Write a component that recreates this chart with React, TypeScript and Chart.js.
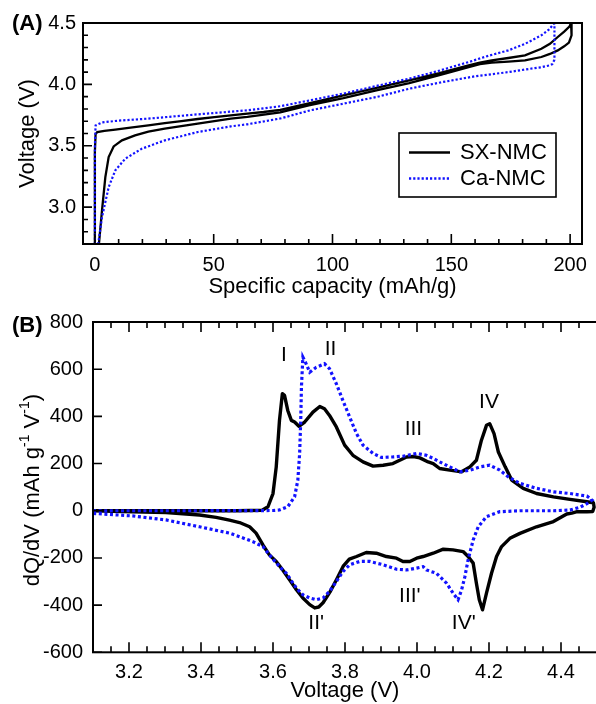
import React, { useEffect, useRef } from "react";
import { Chart, registerables } from "chart.js";
Chart.register(...registerables);

const FONT = '"Liberation Sans", Arial, Helvetica, sans-serif';
const BLACK = "#000000";
const BLUE = "rgb(18,18,255)";

// ---------- Panel A: voltage vs specific capacity ----------
const A_X_TICKS = [0, 50, 100, 150, 200];
const A_Y_TICKS = [3.0, 3.5, 4.0, 4.5];

// SX-NMC: charge (upper) followed by discharge (lower, plotted back to 0)
const A_SX_CAP = [
  0, 0, 0.3, 1, 4, 8.6, 15, 22.5, 29.4, 36.4, 43.3, 50.3, 57.2, 64.2, 71, 78, 90, 104.6, 118, 132.3, 145, 157.3, 162,
  167, 174, 181, 187.9, 191.5, 194.8, 197.5, 199.7, 200.4,
  200.6, 200.6, 199.5, 197.5, 194.8, 191.5, 187.9, 181, 174, 167, 162, 157.3, 145, 132.3, 118, 104.6, 90, 78, 64.2,
  57.2, 43.3, 29.4, 22.5, 16.9, 11.4, 7.9, 5.8, 4.4, 3.0, 1.7,
];
const A_SX_V = [
  2.7, 3.45, 3.595, 3.612, 3.622, 3.632, 3.648, 3.666, 3.684, 3.701, 3.718, 3.734, 3.748, 3.762, 3.775, 3.793, 3.845,
  3.911, 3.97, 4.033, 4.092, 4.155, 4.177, 4.196, 4.215, 4.237, 4.29, 4.33, 4.386, 4.43, 4.47, 4.5,
  4.5, 4.4, 4.34, 4.31, 4.277, 4.248, 4.223, 4.196, 4.186, 4.177, 4.165, 4.14, 4.075, 4.011, 3.95, 3.889, 3.83, 3.772,
  3.735, 3.721, 3.68, 3.639, 3.615, 3.585, 3.544, 3.495, 3.408, 3.245, 2.973, 2.7,
];

// Ca-NMC
const A_CA_CAP = [
  0, 0, 0.3, 3, 10, 22.5, 43.3, 64.2, 78, 90, 104.6, 118, 132.3, 145, 157.3, 166, 174, 181, 187.9, 191, 193.2,
  193.4, 193.4, 192.5, 191.4, 188, 185.1, 174, 160, 146.3, 132.3, 118.5, 104.6, 90.7, 78, 64.2, 57.2, 43.3, 29.4,
  19.7, 12.8, 8.6, 5.8, 3.0, 1.4,
];
const A_CA_V = [
  2.7, 3.5, 3.666, 3.69, 3.705, 3.721, 3.756, 3.789, 3.822, 3.868, 3.925, 3.985, 4.047, 4.112, 4.182, 4.235, 4.277,
  4.33, 4.4, 4.445, 4.495,
  4.495, 4.2, 4.165, 4.155, 4.14, 4.133, 4.1, 4.066, 4.019, 3.965, 3.897, 3.843, 3.789, 3.722, 3.675, 3.658, 3.612,
  3.544, 3.476, 3.395, 3.3, 3.163, 2.919, 2.7,
];

// ---------- Panel B: dQ/dV vs voltage ----------
const B_X_TICKS = [3.2, 3.4, 3.6, 3.8, 4.0, 4.2, 4.4];
const B_Y_TICKS = [-600, -400, -200, 0, 200, 400, 600, 800];

const B_SX_V = [
  3.1, 3.3, 3.5, 3.57, 3.586, 3.6, 3.609, 3.618, 3.626, 3.632, 3.641, 3.651, 3.66, 3.672, 3.688, 3.711, 3.73, 3.743,
  3.757, 3.776, 3.799, 3.822, 3.85, 3.878, 3.906, 3.933, 3.952, 3.971, 3.99, 4.008, 4.031, 4.045, 4.063, 4.091,
  4.124, 4.147, 4.165, 4.179, 4.193, 4.202, 4.214, 4.226, 4.245, 4.263, 4.295, 4.332, 4.379, 4.425, 4.472, 4.49,
  4.492, 4.488, 4.472, 4.445, 4.43, 4.416, 4.379, 4.332, 4.286, 4.258, 4.235, 4.221, 4.207, 4.193, 4.182, 4.173,
  4.165, 4.156, 4.142, 4.128, 4.1, 4.073, 4.045, 4.017, 3.999, 3.98, 3.961, 3.943, 3.915, 3.887, 3.859, 3.832,
  3.812, 3.795, 3.777, 3.758, 3.739, 3.727, 3.716, 3.702, 3.683, 3.665, 3.646, 3.627, 3.609, 3.59, 3.572, 3.553,
  3.535, 3.507, 3.479, 3.442, 3.396, 3.303, 3.21, 3.1,
];
const B_SX_Q = [
  0, 0, 0, 2, 17, 73, 186, 383, 496, 489, 425, 383, 376, 358, 376, 418, 442, 432, 404, 355, 278, 235, 207, 189, 193,
  200, 214, 228, 230, 224, 207, 200, 179, 172, 165, 186, 214, 299, 362, 369, 327, 249, 186, 130, 95, 73, 59, 48, 38,
  34,
  15, -3, -4, -4, -10, -14, -46, -68, -96, -117, -152, -194, -265, -349, -420, -377, -307, -222, -194, -173, -166,
  -163, -180, -194, -201, -215, -215, -201, -194, -180, -177, -194, -205, -235, -290, -345, -390, -408, -412, -398,
  -370, -335, -293, -251, -215, -187, -145, -95, -68, -50, -40, -28, -18, -8, -4, 0,
];

const B_CA_V = [
  3.1, 3.4, 3.6, 3.618, 3.641, 3.66, 3.669, 3.674, 3.677, 3.679, 3.683, 3.69, 3.702, 3.72, 3.743, 3.757, 3.776,
  3.794, 3.813, 3.832, 3.85, 3.878, 3.901, 3.933, 3.961, 3.999, 4.026, 4.045, 4.063, 4.091, 4.119, 4.147, 4.175,
  4.202, 4.23, 4.253, 4.286, 4.332, 4.379, 4.425, 4.472, 4.486,
  4.472, 4.453, 4.425, 4.379, 4.286, 4.23, 4.193, 4.17, 4.156, 4.142, 4.133, 4.124, 4.114, 4.1, 4.082, 4.054, 4.026,
  4.017, 3.999, 3.971, 3.943, 3.906, 3.869, 3.841, 3.813, 3.794, 3.776, 3.757, 3.739, 3.72, 3.702, 3.683, 3.665,
  3.637, 3.618, 3.59, 3.572, 3.544, 3.507, 3.479, 3.396, 3.303, 3.21, 3.1,
];
const B_CA_Q = [
  0, 0, 1, 3, 17, 59, 130, 243, 383, 524, 651, 630, 587, 608, 623, 602, 538, 468, 397, 327, 278, 243, 226, 228, 231,
  243, 235, 222, 207, 186, 165, 172, 186, 193, 172, 144, 116, 95, 80, 73, 62, 45,
  30, 15, 3, 0, 0, -4, -25, -68, -124, -208, -279, -335, -377, -349, -307, -265, -251, -237, -243, -251, -248, -229,
  -215, -215, -229, -258, -300, -342, -370, -377, -370, -356, -328, -265, -237, -187, -152, -131, -110, -95, -68,
  -39, -22, -11,
];

const B_PEAK_LABELS = ["I", "II", "III", "IV", "II'", "III'", "IV'"];
const B_PEAK_V = [3.63, 3.76, 3.99, 4.2, 3.72, 3.98, 4.13];
const B_PEAK_Q = [660, 685, 345, 460, -475, -362, -476];

const LEGEND_LABELS = ["SX-NMC", "Ca-NMC"];

const pts = (xs: number[], ys: number[]) => xs.map((x, i) => ({ x, y: ys[i] }));

type TickSpec = { axis: "x" | "y"; side: "top" | "bottom" | "left"; values: number[]; len: number };

function makeFramePlugin(border: number, tickSpecs: TickSpec[], extra?: (chart: any) => void) {
  return {
    id: "frameTicks",
    afterDatasetsDraw(chart: any) {
      const { ctx, chartArea: ca, scales } = chart;
      ctx.save();
      ctx.strokeStyle = BLACK;
      ctx.lineWidth = border;
      ctx.strokeRect(ca.left, ca.top, ca.right - ca.left, ca.bottom - ca.top);
      ctx.lineWidth = 1.6;
      ctx.beginPath();
      for (const t of tickSpecs) {
        for (const v of t.values) {
          if (t.axis === "x") {
            const px = scales.x.getPixelForValue(v);
            if (px < ca.left - 0.5 || px > ca.right + 0.5) continue;
            if (t.side === "bottom") {
              ctx.moveTo(px, ca.bottom);
              ctx.lineTo(px, ca.bottom - t.len);
            } else {
              ctx.moveTo(px, ca.top);
              ctx.lineTo(px, ca.top + t.len);
            }
          } else {
            const py = scales.y.getPixelForValue(v);
            if (py < ca.top - 0.5 || py > ca.bottom + 0.5) continue;
            ctx.moveTo(ca.left, py);
            ctx.lineTo(ca.left + t.len, py);
          }
        }
      }
      ctx.stroke();
      ctx.restore();
      if (extra) extra(chart);
    },
  };
}

function range(a: number, b: number, step: number) {
  const out: number[] = [];
  for (let v = a; v <= b + step * 1e-6; v += step) out.push(Math.round(v * 1000) / 1000);
  return out;
}

export default function App() {
  const refA = useRef<HTMLCanvasElement>(null);
  const refB = useRef<HTMLCanvasElement>(null);

  useEffect(() => {
    const tickFont = { family: FONT, size: 20 };
    const titleFont = { family: FONT, size: 22 };

    // ---------------- Chart A ----------------
    const extraA = (chart: any) => {
      const { ctx } = chart;
      ctx.save();
      ctx.fillStyle = BLACK;
      ctx.font = `bold 22px ${FONT}`;
      ctx.textBaseline = "middle";
      ctx.textAlign = "left";
      ctx.fillText("(A)", 12, 24);
      // legend
      ctx.lineWidth = 1.6;
      ctx.strokeStyle = BLACK;
      ctx.strokeRect(399, 133, 157, 64);
      ctx.beginPath();
      ctx.lineWidth = 2.4;
      ctx.moveTo(409, 152.5);
      ctx.lineTo(450, 152.5);
      ctx.stroke();
      ctx.beginPath();
      ctx.strokeStyle = BLUE;
      ctx.setLineDash([2.2, 2]);
      ctx.lineWidth = 2.4;
      ctx.moveTo(409, 178.5);
      ctx.lineTo(450, 178.5);
      ctx.stroke();
      ctx.setLineDash([]);
      ctx.font = `22px ${FONT}`;
      ctx.fillText(LEGEND_LABELS[0], 460, 152.5);
      ctx.fillText(LEGEND_LABELS[1], 460, 178.5);
      ctx.restore();
    };

    const chartA = new Chart(refA.current!, {
      type: "line",
      data: {
        datasets: [
          {
            label: LEGEND_LABELS[1],
            data: pts(A_CA_CAP, A_CA_V),
            borderColor: BLUE,
            borderWidth: 2.2,
            borderDash: [2.2, 2],
            pointRadius: 0,
            tension: 0,
            fill: false,
            order: 0,
          },
          {
            label: LEGEND_LABELS[0],
            data: pts(A_SX_CAP, A_SX_V),
            borderColor: BLACK,
            borderWidth: 2.3,
            pointRadius: 0,
            tension: 0,
            fill: false,
            order: 1,
          },
        ],
      },
      options: {
        responsive: false,
        animation: false,
        events: [],
        layout: { padding: { top: 23, right: 8, left: 0, bottom: 0 } },
        plugins: { legend: { display: false }, tooltip: { enabled: false } },
        scales: {
          x: {
            type: "linear",
            min: -5,
            max: 205,
            afterBuildTicks: (s: any) => {
              s.ticks = A_X_TICKS.map((v) => ({ value: v }));
            },
            afterFit: (s: any) => {
              s.height = 56;
            },
            grid: { display: false, drawTicks: false },
            border: { display: false },
            ticks: {
              autoSkip: false,
              maxRotation: 0,
              padding: 9,
              color: BLACK,
              font: tickFont,
              callback: (v: any) => String(v),
            },
            title: {
              display: true,
              text: "Specific capacity (mAh/g)",
              color: BLACK,
              font: titleFont,
              padding: { top: 0, bottom: 0 },
            },
          },
          y: {
            type: "linear",
            min: 2.7,
            max: 4.5,
            afterBuildTicks: (s: any) => {
              s.ticks = A_Y_TICKS.map((v) => ({ value: v }));
            },
            afterFit: (s: any) => {
              s.width = 83;
            },
            grid: { display: false, drawTicks: false },
            border: { display: false },
            ticks: {
              autoSkip: false,
              padding: 7,
              color: BLACK,
              font: tickFont,
              callback: (v: any) => Number(v).toFixed(1),
            },
            title: {
              display: true,
              text: "Voltage (V)",
              color: BLACK,
              font: titleFont,
              padding: { top: 15, bottom: 0 },
            },
          },
        },
      },
      plugins: [
        makeFramePlugin(
          2,
          [
            { axis: "y", side: "left", values: range(2.7, 4.5, 0.1), len: 5 },
            { axis: "y", side: "left", values: A_Y_TICKS, len: 9 },
            { axis: "x", side: "bottom", values: range(0, 200, 10), len: 5 },
            { axis: "x", side: "bottom", values: A_X_TICKS, len: 10 },
          ],
          extraA
        ),
      ],
    } as any);

    // ---------------- Chart B ----------------
    const extraB = (chart: any) => {
      const { ctx, chartArea: ca, scales } = chart;
      ctx.save();
      ctx.fillStyle = BLACK;
      ctx.font = `bold 22px ${FONT}`;
      ctx.textBaseline = "middle";
      ctx.textAlign = "left";
      ctx.fillText("(B)", 12, 26);

      // peak labels
      ctx.font = `21px ${FONT}`;
      ctx.textAlign = "center";
      B_PEAK_LABELS.forEach((lab, i) => {
        ctx.fillText(lab, scales.x.getPixelForValue(B_PEAK_V[i]), scales.y.getPixelForValue(B_PEAK_Q[i]));
      });

      // rotated y title with superscripts
      const parts: { t: string; sup?: boolean }[] = [
        { t: "dQ/dV (mAh g" },
        { t: "-1", sup: true },
        { t: " V" },
        { t: "-1", sup: true },
        { t: ")" },
      ];
      const size = 22;
      const supSize = 14;
      let total = 0;
      const widths = parts.map((p) => {
        ctx.font = `${p.sup ? supSize : size}px ${FONT}`;
        const w = ctx.measureText(p.t).width;
        total += w;
        return w;
      });
      ctx.translate(31, (ca.top + ca.bottom) / 2 + 3);
      ctx.rotate(-Math.PI / 2);
      ctx.textAlign = "left";
      ctx.textBaseline = "alphabetic";
      let x = -total / 2;
      const base = size * 0.35;
      parts.forEach((p, i) => {
        ctx.font = `${p.sup ? supSize : size}px ${FONT}`;
        ctx.fillText(p.t, x, p.sup ? base - size * 0.42 : base);
        x += widths[i];
      });
      ctx.restore();
    };

    const chartB = new Chart(refB.current!, {
      type: "line",
      data: {
        datasets: [
          {
            label: LEGEND_LABELS[1],
            data: pts(B_CA_V, B_CA_Q),
            borderColor: BLUE,
            borderWidth: 3.2,
            borderDash: [3, 2.6],
            pointRadius: 0,
            tension: 0,
            fill: false,
            order: 0,
          },
          {
            label: LEGEND_LABELS[0],
            data: pts(B_SX_V, B_SX_Q),
            borderColor: BLACK,
            borderWidth: 3.4,
            borderJoinStyle: "round",
            pointRadius: 0,
            tension: 0,
            fill: false,
            order: 1,
          },
        ],
      },
      options: {
        responsive: false,
        animation: false,
        events: [],
        layout: { padding: { top: 20.7, right: 3, left: 0, bottom: 0 } },
        plugins: { legend: { display: false }, tooltip: { enabled: false } },
        scales: {
          x: {
            type: "linear",
            min: 3.1,
            max: 4.5,
            afterBuildTicks: (s: any) => {
              s.ticks = B_X_TICKS.map((v) => ({ value: v }));
            },
            afterFit: (s: any) => {
              s.height = 51.7;
            },
            grid: { display: false, drawTicks: false },
            border: { display: false },
            ticks: {
              autoSkip: false,
              maxRotation: 0,
              padding: 8.3,
              color: BLACK,
              font: tickFont,
              callback: (v: any) => Number(v).toFixed(1),
            },
            title: {
              display: true,
              text: "Voltage (V)",
              color: BLACK,
              font: titleFont,
              padding: { top: 0, bottom: 0 },
            },
          },
          y: {
            type: "linear",
            min: -600,
            max: 800,
            afterBuildTicks: (s: any) => {
              s.ticks = B_Y_TICKS.map((v) => ({ value: v }));
            },
            afterFit: (s: any) => {
              s.width = 93;
            },
            grid: { display: false, drawTicks: false },
            border: { display: false },
            ticks: {
              autoSkip: false,
              padding: 10,
              color: BLACK,
              font: tickFont,
              callback: (v: any) => String(v),
            },
            title: { display: false },
          },
        },
      },
      plugins: [
        makeFramePlugin(
          2,
          [
            { axis: "y", side: "left", values: B_Y_TICKS, len: 9 },
            { axis: "x", side: "bottom", values: range(3.1, 4.5, 0.05), len: 6 },
            { axis: "x", side: "bottom", values: B_X_TICKS, len: 10 },
            { axis: "x", side: "top", values: range(3.1, 4.5, 0.05), len: 6 },
            { axis: "x", side: "top", values: B_X_TICKS, len: 10 },
          ],
          extraB
        ),
      ],
    } as any);

    return () => {
      chartA.destroy();
      chartB.destroy();
    };
  }, []);

  return (
    <div
      style={{
        position: "absolute",
        left: 0,
        top: 0,
        width: 596,
        height: 704,
        overflow: "hidden",
        background: "#ffffff",
      }}
    >
      <canvas
        ref={refA}
        width={596}
        height={300}
        style={{ position: "absolute", left: 0, top: 0, width: 596, height: 300 }}
      />
      <canvas
        ref={refB}
        width={600}
        height={404}
        style={{ position: "absolute", left: 0, top: 300, width: 600, height: 404 }}
      />
    </div>
  );
}
